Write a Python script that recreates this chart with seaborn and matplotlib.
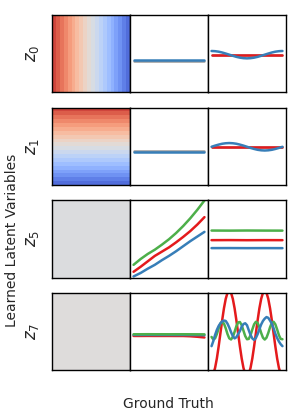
import numpy as np
import matplotlib
matplotlib.use("Agg")
import matplotlib.pyplot as plt
import seaborn as sns

# latent names, one per row
latents = ["$z_0$", "$z_1$", "$z_5$", "$z_7$"]

# ground truth grids
gt_flat = [0.0, 0.25, 0.5, 0.75, 1.0]
gt_coarse = [0.0, 0.1, 0.2, 0.3, 0.4, 0.5, 0.6, 0.7, 0.8, 0.9, 1.0]
gt_mid = np.linspace(0, 1, 21)
gt_fine = np.linspace(0, 1, 41)

# heatmap response of each latent (left column)
z0_map = [0.85, 0.76, 0.67, 0.58, 0.49, 0.40, 0.31, 0.22, 0.13, 0.04,
          -0.04, -0.13, -0.22, -0.31, -0.40, -0.49, -0.58, -0.67, -0.76, -0.85]
z1_map = [0.85, 0.76, 0.67, 0.58, 0.49, 0.40, 0.31, 0.22, 0.13, 0.04,
          -0.04, -0.13, -0.22, -0.31, -0.40, -0.49, -0.58, -0.67, -0.76, -0.85]
z5_map = -0.01
z7_map = 0.01

# z0
z0_mid_gray = [-0.18, -0.18, -0.18, -0.18, -0.18]
z0_mid_blue = [-0.16, -0.16, -0.16, -0.16, -0.16]
z0_right_gray = [-0.045, -0.045, -0.045, -0.045, -0.045]
z0_right_red = [-0.035, -0.035, -0.035, -0.035, -0.035]
z0_right_blue = [0.070, 0.065, 0.052, 0.031, 0.004, -0.025, -0.054, -0.081, -0.102, -0.115, -0.120,
                 -0.115, -0.102, -0.081, -0.054, -0.025, 0.004, 0.031, 0.052, 0.065, 0.070]

# z1
z1_mid_gray = [-0.11, -0.11, -0.11, -0.11, -0.11]
z1_mid_blue = [-0.135, -0.135, -0.135, -0.135, -0.135]
z1_right_gray = [-0.03, -0.03, -0.03, -0.03, -0.03]
z1_right_red = [-0.013, -0.013, -0.013, -0.013, -0.013]
z1_right_blue = [-0.013, 0.017, 0.043, 0.065, 0.078, 0.083, 0.078, 0.065, 0.043, 0.017, -0.013,
                 -0.043, -0.069, -0.091, -0.104, -0.109, -0.104, -0.091, -0.069, -0.043, -0.013]

# z5
z5_mid_green = [-0.67, -0.52, -0.39, -0.28, -0.15, -0.01, 0.15, 0.33, 0.53, 0.75, 0.99]
z5_mid_red = [-0.85, -0.72, -0.58, -0.44, -0.33, -0.22, -0.09, 0.05, 0.20, 0.37, 0.56]
z5_mid_blue = [-0.97, -0.88, -0.77, -0.67, -0.55, -0.44, -0.32, -0.19, -0.06, 0.06, 0.18]
z5_right_green = [0.214, 0.212, 0.215, 0.213, 0.212]
z5_right_red = [-0.034, -0.032, -0.035, -0.033, -0.034]
z5_right_blue = [-0.239, -0.238, -0.240, -0.239, -0.240]

# z7
z7_mid_green = [-0.073, -0.073, -0.072, -0.073, -0.073, -0.074, -0.073, -0.073, -0.074, -0.075, -0.076]
z7_mid_blue = [-0.091, -0.091, -0.090, -0.091, -0.091, -0.091, -0.092, -0.091, -0.092, -0.094, -0.097]
z7_mid_red = [-0.117, -0.117, -0.116, -0.117, -0.117, -0.117, -0.118, -0.118, -0.125, -0.138, -0.156]
z7_right_red = [-1.15, -1.096, -0.94, -0.697, -0.39, -0.05, 0.29, 0.597, 0.84, 0.996, 1.05,
                0.996, 0.84, 0.597, 0.29, -0.05, -0.39, -0.697, -0.94, -1.096, -1.15,
                -1.096, -0.94, -0.697, -0.39, -0.05, 0.29, 0.597, 0.84, 0.996, 1.05,
                0.996, 0.84, 0.597, 0.29, -0.05, -0.39, -0.697, -0.94, -1.096, -1.15]
z7_right_green = [-0.143, -0.208, -0.179, -0.068, 0.080, 0.202, 0.25, 0.202, 0.080, -0.068, -0.179,
                  -0.208, -0.143, -0.010, 0.135, 0.233, 0.242, 0.160, 0.02, -0.120, -0.202,
                  -0.193, -0.095, 0.050, 0.183, 0.248, 0.219, 0.108, -0.040, -0.162, -0.21,
                  -0.162, -0.040, 0.108, 0.219, 0.248, 0.183, 0.050, -0.095, -0.193, -0.202]
z7_right_blue = [-0.38, -0.25, -0.09, 0.04, 0.14, 0.21, 0.26, 0.28, 0.27, 0.20, 0.10,
                 -0.02, -0.12, -0.18, -0.15, -0.07, 0.01, 0.12, 0.19, 0.21, 0.16,
                 0.03, -0.09, -0.18, -0.22, -0.17, -0.07, 0.06, 0.18, 0.27, 0.33,
                 0.37, 0.35, 0.28, 0.20, 0.08, -0.06, -0.17, -0.26, -0.33, -0.38]

RED = "#e41a1c"
GREEN = "#4daf4a"
BLUE = "#377eb8"
GRAY = "#999999"

maps = [
    np.tile(z0_map, (20, 1)),
    np.tile(np.array(z1_map)[:, None], (1, 20)),
    np.full((20, 20), z5_map),
    np.full((20, 20), z7_map),
]
mid_lines = [
    [(gt_flat, z0_mid_gray, GRAY), (gt_flat, z0_mid_blue, BLUE)],
    [(gt_flat, z1_mid_gray, GRAY), (gt_flat, z1_mid_blue, BLUE)],
    [(gt_coarse, z5_mid_green, GREEN), (gt_coarse, z5_mid_red, RED), (gt_coarse, z5_mid_blue, BLUE)],
    [(gt_coarse, z7_mid_red, RED), (gt_coarse, z7_mid_blue, BLUE), (gt_coarse, z7_mid_green, GREEN)],
]
right_lines = [
    [(gt_flat, z0_right_gray, GRAY), (gt_flat, z0_right_red, RED), (gt_mid, z0_right_blue, BLUE)],
    [(gt_flat, z1_right_gray, GRAY), (gt_flat, z1_right_red, RED), (gt_mid, z1_right_blue, BLUE)],
    [(gt_flat, z5_right_green, GREEN), (gt_flat, z5_right_red, RED), (gt_flat, z5_right_blue, BLUE)],
    [(gt_fine, z7_right_red, RED), (gt_fine, z7_right_green, GREEN), (gt_fine, z7_right_blue, BLUE)],
]

sns.set_style("white")
plt.rcParams["font.family"] = ["DejaVu Sans"]

fig, axes = plt.subplots(4, 3, figsize=(3.05, 4.15), dpi=100)
fig.subplots_adjust(left=0.1705, right=0.9377, top=0.964, bottom=0.108, wspace=0, hspace=0.194)


def frame(ax):
    for spine in ax.spines.values():
        spine.set_visible(True)
        spine.set_color("black")
        spine.set_linewidth(1.0)
    ax.set_xticks([])
    ax.set_yticks([])
    ax.set_xlabel("")


for i in range(4):
    ax = axes[i, 0]
    sns.heatmap(maps[i], cmap="coolwarm", vmin=-1, vmax=1, cbar=False,
                xticklabels=False, yticklabels=False, ax=ax)
    frame(ax)
    ax.set_ylabel(latents[i], fontsize=12, labelpad=8)

    for j, group in ((1, mid_lines[i]), (2, right_lines[i])):
        ax = axes[i, j]
        for x, y, c in group:
            sns.lineplot(x=x, y=y, color=c, linewidth=1.8, ax=ax)
        ax.set_ylim(-1, 1)
        ax.set_ylabel("")
        frame(ax)

fig.text(0.552, 0.026, "Ground Truth", ha="center", va="center", fontsize=10)
fig.text(0.039, 0.42, "Learned Latent Variables", ha="center", va="center",
         rotation=90, fontsize=10)

fig.savefig("out.png", dpi=100)
